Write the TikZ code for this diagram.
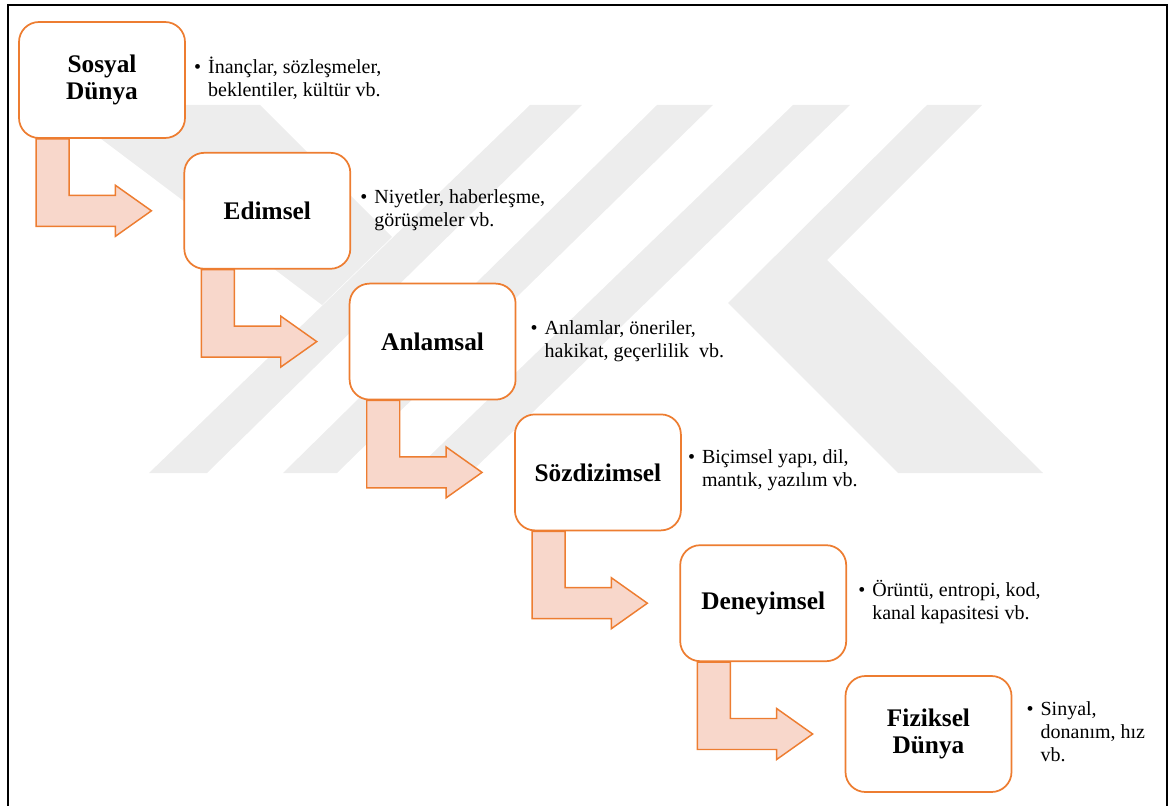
\documentclass[tikz,border=0pt]{standalone}
\usepackage{fontspec}
\setmainfont{Liberation Serif}
\usetikzlibrary{calc}
\definecolor{accent}{HTML}{ED7D31}
\definecolor{accentfill}{HTML}{F8D7CB}
\definecolor{markgray}{HTML}{EDEDED}

\begin{document}
\begin{tikzpicture}[x=0.75pt,y=-0.75pt,
  level/.style={draw=accent, line width=1.3pt, fill=white, rounded corners=15pt,
    minimum width=124.5pt, minimum height=87pt, inner sep=0pt, align=center,
    font=\fontsize{19}{20}\selectfont\bfseries},
  flow/.style={draw=accent, line width=1.1pt, fill=accentfill, line join=miter},
  note/.style={anchor=west, inner sep=0pt, font=\fontsize{15}{17}\selectfont},
  logo/.style={fill=markgray, draw=none}]

\useasboundingbox (0,0) rectangle (1170,806);
\clip (0,0) rectangle (1170,806);

% faint background emblem
\fill[logo] (56,105) -- (260,105) -- (392,237) -- (322,305) -- cycle;
\fill[logo] (149,473) -- (207,473) -- (582,105) -- (530,105) -- cycle;
\fill[logo] (283,473) -- (337,473) -- (713,105) -- (657,105) -- cycle;
\fill[logo] (412,473) -- (470,473) -- (850,105) -- (793,105) -- cycle;
\fill[logo] (927,105) -- (982,105) -- (827,260) -- (1043,473) -- (898,473) -- (728,303) -- cycle;

% frame
\draw[line width=1.5pt] (8,830) -- (8,5) -- (1167,5) -- (1167,830);

% levels
\node[level] (b0) at (102,80)      {Sosyal\\Dünya};
\node[level] (b1) at (267.3,210.8) {Edimsel};
\node[level] (b2) at (432.6,341.6) {Anlamsal};
\node[level] (b3) at (597.9,472.4) {Sözdizimsel};
\node[level] (b4) at (763.2,603.2) {Deneyimsel};
\node[level] (b5) at (928.5,734)   {Fiziksel\\Dünya};

% bent arrows between consecutive levels
\foreach \i/\j in {b0/b1, b1/b2, b2/b3, b3/b4, b4/b5} {
  \path (\i.south west) ++(18,0) coordinate (p1) ++(33,0) coordinate (p2);
  \path (\j.west) ++(-32,0) coordinate (tip);
  \draw[flow] (p1) -- (p2) -- ($(p2 |- tip)+(0,-15.5)$) -- ($(tip)+(-36,-15.5)$)
    -- ($(tip)+(-36,-25.5)$) -- (tip) -- ($(tip)+(-36,25.5)$) -- ($(tip)+(-36,15.5)$)
    -- ($(p1 |- tip)+(0,15.5)$) -- cycle;
}

% descriptions
\node[note] (n0) at ($(b0.east)+(8,0)$) {\begin{tabular}{@{}p{10.5pt}@{}l@{}}\textbullet & İnançlar, sözleşmeler,\\ & beklentiler, kültür vb.\end{tabular}};
\node[note] (n1) at ($(b1.east)+(9,0)$) {\begin{tabular}{@{}p{10.5pt}@{}l@{}}\textbullet & Niyetler, haberleşme,\\ & görüşmeler vb.\end{tabular}};
\node[note] (n2) at ($(b2.east)+(14,0)$) {\begin{tabular}{@{}p{10.5pt}@{}l@{}}\textbullet & Anlamlar, öneriler,\\ & hakikat, geçerlilik~~vb.\end{tabular}};
\node[note] (n3) at ($(b3.east)+(6,-2)$) {\begin{tabular}{@{}p{10.5pt}@{}l@{}}\textbullet & Biçimsel yapı, dil,\\ & mantık, yazılım vb.\end{tabular}};
\node[note] (n4) at ($(b4.east)+(11,0)$) {\begin{tabular}{@{}p{10.5pt}@{}l@{}}\textbullet & Örüntü, entropi, kod,\\ & kanal kapasitesi vb.\end{tabular}};
\node[note] (n5) at ($(b5.east)+(14,0)$) {\begin{tabular}{@{}p{10.5pt}@{}l@{}}\textbullet & Sinyal,\\ & donanım, hız\\ & vb.\end{tabular}};
\end{tikzpicture}
\end{document}
